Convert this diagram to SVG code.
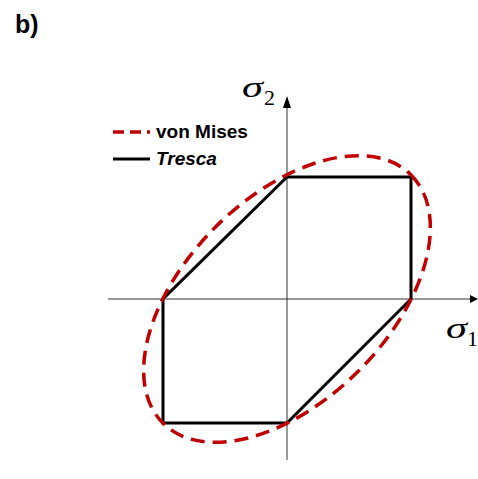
<svg xmlns="http://www.w3.org/2000/svg" width="478" height="479" viewBox="0 0 478 479">
<style>
.axis{stroke:#333;stroke-width:1;fill:none}
.tresca{stroke:#000;stroke-width:3;fill:none;stroke-linejoin:miter}
.mises{stroke:#c00000;stroke-width:3.5;fill:none;stroke-dasharray:14 8}
.lbl{font-family:"Liberation Sans",Arial,sans-serif;font-weight:bold;font-size:19px;fill:#000}
.sig{font-family:"Liberation Serif","Times New Roman",serif;font-size:29px;font-style:italic;fill:#000}
.sub{font-family:"Liberation Serif","Times New Roman",serif;font-size:22px;fill:#000}
</style>
<rect width="478" height="479" fill="#fff"/>
<text x="15" y="33" class="lbl" style="font-size:25px">b)</text>
<g id="connectors">
<line class="axis" x1="108" y1="299" x2="472" y2="299"/>
<polygon points="478,299 470,295 470,303" fill="#000"/>
<line class="axis" x1="287" y1="460" x2="287" y2="104"/>
<polygon points="287,96 283,108 291,108" fill="#000"/>
</g>
<g id="tresca">
<polygon class="tresca" points="287,177 411,177 411,299 287,423 163,423 163,299"/>
</g>
<g id="mises">
<ellipse class="mises" cx="287" cy="299" rx="175.5" ry="101.5" transform="rotate(-45 287 299)"/>
</g>
<g id="legend">
<line x1="113" y1="132" x2="150" y2="132" stroke="#c00000" stroke-width="3.5" stroke-dasharray="11 6"/>
<text x="156" y="138" class="lbl">von Mises</text>
<line x1="113" y1="159" x2="150" y2="159" stroke="#000" stroke-width="3"/>
<text x="156" y="165" class="lbl" font-style="italic">Tresca</text>
</g>
<g id="labels">
<text x="242" y="97" class="sig" textLength="21" lengthAdjust="spacingAndGlyphs">σ</text>
<text x="264" y="105" class="sub">2</text>
<text x="446" y="338" class="sig" textLength="21" lengthAdjust="spacingAndGlyphs">σ</text>
<text x="467" y="346" class="sub">1</text>
</g>
</svg>
